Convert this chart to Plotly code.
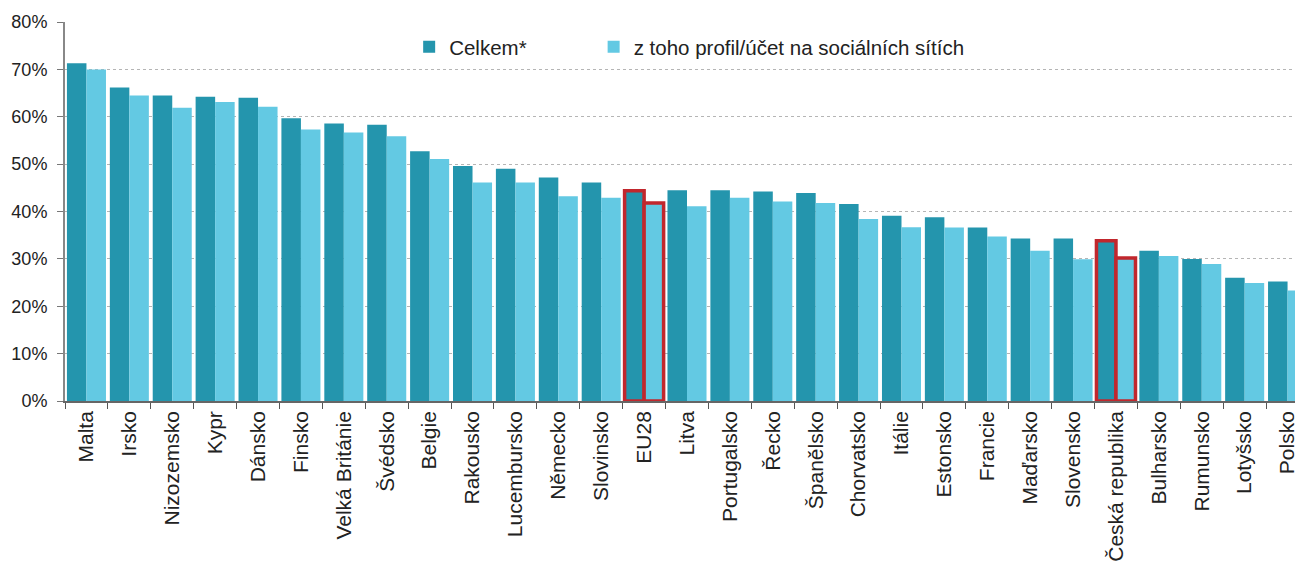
import plotly.graph_objects as go

categories = ["Malta", "Irsko", "Nizozemsko", "Kypr", "Dánsko", "Finsko", "Velká Británie",
              "Švédsko", "Belgie", "Rakousko", "Lucembursko", "Německo", "Slovinsko", "EU28",
              "Litva", "Portugalsko", "Řecko", "Španělsko", "Chorvatsko", "Itálie", "Estonsko",
              "Francie", "Maďarsko", "Slovensko", "Česká republika", "Bulharsko", "Rumunsko",
              "Lotyšsko", "Polsko"]
celkem = [71.3, 66.2, 64.5, 64.2, 64.0, 59.7, 58.6, 58.3, 52.7, 49.6, 49.0, 47.2, 46.1, 44.4,
          44.5, 44.5, 44.2, 43.9, 41.6, 39.1, 38.8, 36.6, 34.3, 34.3, 33.8, 31.7, 30.0, 26.0, 25.2]
profil = [70.0, 64.5, 61.9, 63.1, 62.1, 57.3, 56.7, 55.9, 51.1, 46.1, 46.1, 43.2, 42.9, 41.8,
          41.1, 42.9, 42.1, 41.8, 38.4, 36.7, 36.6, 34.7, 31.7, 29.9, 30.2, 30.6, 28.9, 24.9, 23.3]
highlight = ["EU28", "Česká republika"]
yticks = [0, 10, 20, 30, 40, 50, 60, 70, 80]

DARK = "#2495AD"
LIGHT = "#63C9E3"
RED = "#C1272D"

def lines(fill):
    colors = [RED if c in highlight else fill for c in categories]
    widths = [3.5 if c in highlight else 0 for c in categories]
    return dict(color=colors, width=widths)

fig = go.Figure()
fig.add_bar(x=categories, y=celkem, name="Celkem*", legend="legend",
            marker=dict(color=DARK, line=lines(DARK)))
fig.add_bar(x=categories, y=profil, name="z toho profil/účet na sociálních sítích", legend="legend2",
            marker=dict(color=LIGHT, line=lines(LIGHT)))

font = "Liberation Sans, Arial, sans-serif"
leg = dict(orientation="h", xanchor="left", yanchor="middle", y=0.934,
           bgcolor="rgba(0,0,0,0)", font=dict(size=20.5, color="#222"), itemwidth=30)
fig.update_layout(
    width=1295, height=555,
    margin=dict(l=57, r=0, t=14, b=162),
    paper_bgcolor="white", plot_bgcolor="white",
    barmode="group", bargap=0.09, bargroupgap=0,
    font=dict(family=font, size=18, color="#222"),
    showlegend=True,
    legend=dict(leg, x=0.278),
    legend2=dict(leg, x=0.427),
)
fig.update_xaxes(
    type="category", range=[-0.5, 28.36],
    tickangle=-90, tickson="boundaries", ticks="outside", ticklen=6, tickcolor="#555",
    showline=True, linecolor="#666", linewidth=1.5, showgrid=False,
    tickfont=dict(size=21, color="#222"),
)
fig.update_yaxes(
    range=[0, 80], tickvals=yticks, ticktext=[f"{v}%" for v in yticks],
    ticks="outside", ticklen=6, tickcolor="#777", ticklabelstandoff=6,
    showline=True, linecolor="#888", linewidth=2,
    showgrid=True, gridcolor="#B5B5B5", griddash="dot", gridwidth=1,
    tickfont=dict(size=18, color="#222"), zeroline=False,
)
fig.write_html("out.html")
